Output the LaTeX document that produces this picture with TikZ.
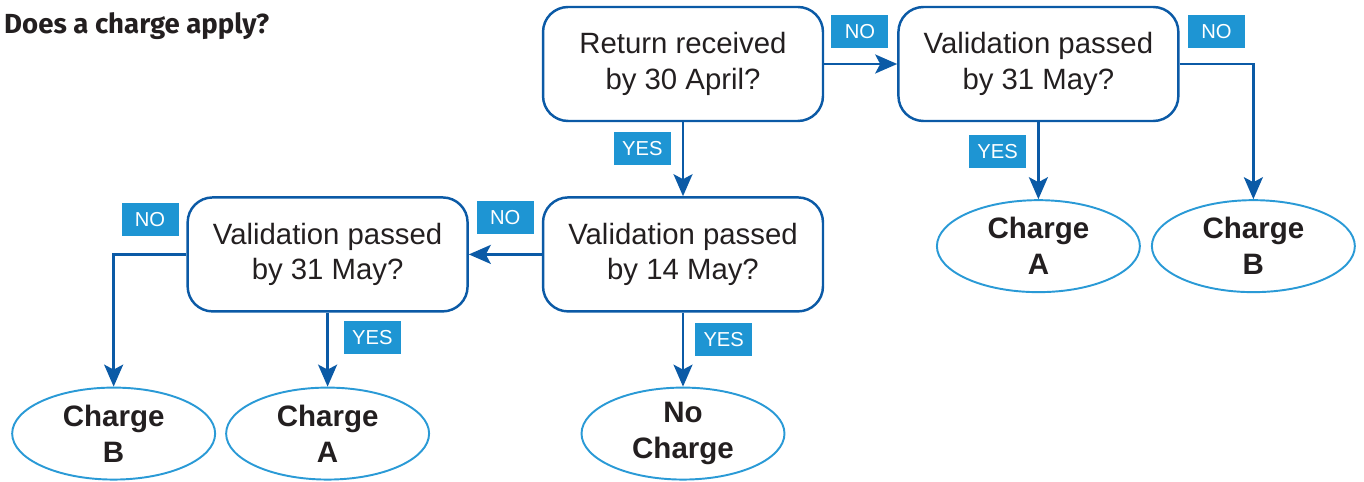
\documentclass[tikz,border=0pt]{standalone}
\usepackage{fontspec}
\setmainfont{Liberation Sans}
\newfontfamily\titlefont{Fira Sans}
\usetikzlibrary{positioning,shapes.geometric,arrows.meta}
\definecolor{boxblue}{HTML}{0B5AA6}
\definecolor{ovalblue}{HTML}{2A9AD6}
\definecolor{tagblue}{HTML}{1E95D3}
\definecolor{txtgray}{HTML}{231F20}

\begin{document}
\begin{tikzpicture}[x=0.02cm,y=0.02cm,
    box/.style={draw=boxblue,line width=1.4pt,rounded corners=0.5cm,minimum width=5.6cm,minimum height=2.28cm,align=center,text=txtgray,font=\fontsize{16.7}{20.4}\selectfont},
    oval/.style={ellipse,draw=ovalblue,line width=1.1pt,minimum width=4.06cm,minimum height=1.84cm,inner sep=0pt,align=center,text=txtgray,font=\fontsize{16.8}{20.4}\selectfont\bfseries},
    tag/.style={fill=tagblue,text=white,minimum width=1.14cm,minimum height=0.66cm,inner sep=0pt,font=\fontsize{11.5}{12}\selectfont},
    arr/.style={draw=boxblue,line width=1.4pt,-{Stealth[length=0.44cm,width=0.38cm,inset=0.1cm]}}] %
    \useasboundingbox (0,0) rectangle (1364,-482); %
    \node[anchor=base west,text=txtgray,font=\titlefont\bfseries\fontsize{15.7}{18}\selectfont] (title) at (-2,-34) {Does a charge apply?}; %
    \node[box] (ret) at (683,-64) {Return received\\by 30 April?} ; %
    \node[box, right=1.46cm of ret] (val31a) {Validation passed\\by 31 May?} ; %
    \node[box, below=1.48cm of ret] (val14) {Validation passed\\by 14 May?} ; %
    \node[box, left=1.46cm of val14] (val31b) {Validation passed\\by 31 May?} ; %
    \node[oval, below=1.54cm of val31a] (chgA) {Charge\\A} ; %
    \node[oval, below=1.54cm of val31a,xshift=4.3cm] (chgB) {Charge\\B} ; %
    \node[oval, below=1.48cm of val14] (nochg) {No\\Charge} ; %
    \node[oval, below=1.48cm of val31b] (chgA2) {Charge\\A} ; %
    \node[oval, below=1.48cm of val31b,xshift=-4.28cm] (chgB2) {Charge\\B} ; %
    \draw[arr] (ret) -- node[tag,pos=0.36,anchor=east,xshift=-0.22cm] (yes1) {YES} (val14) ; %
    \draw[arr] (ret) -- node[tag,pos=0.49,anchor=south,yshift=0.3cm] (no1) {NO} (val31a) ;
    \draw[arr] (val31a) -- node[tag,pos=0.38,anchor=east,xshift=-0.22cm] (yes2) {YES} (chgA) ;
    \draw[arr] (val31a) -| node[tag,pos=0.25,anchor=south,yshift=0.3cm] (no2) {NO} (chgB) ;
    \draw[arr] (val14) -- node[tag,pos=0.5,anchor=south,yshift=0.38cm] (no3) {NO} (val31b) ;
    \draw[arr] (val14) -- node[tag,pos=0.36,anchor=west,xshift=0.22cm] (yes3) {YES} (nochg) ;
    \draw[arr] (val31b) -| node[tag,pos=0.25,anchor=south,yshift=0.34cm] (no4) {NO} (chgB2) ;
    \draw[arr] (val31b) -- node[tag,pos=0.34,anchor=west,xshift=0.3cm] (yes4) {YES} (chgA2) ;
  \end{tikzpicture}
\end{document}
